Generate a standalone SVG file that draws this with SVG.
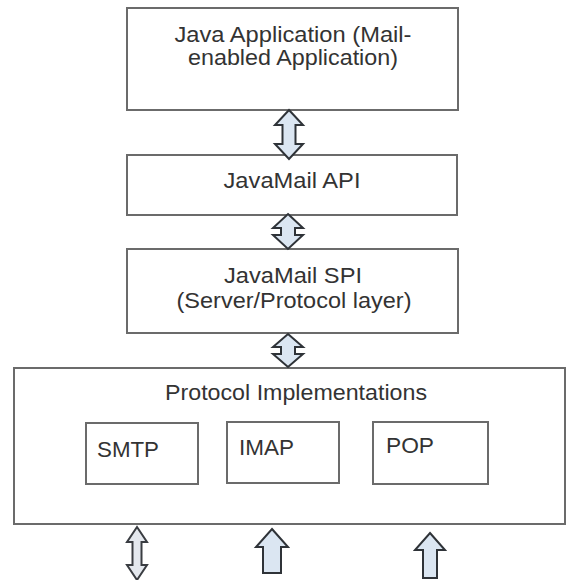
<svg xmlns="http://www.w3.org/2000/svg" width="567" height="580" viewBox="0 0 567 580">
<style>
.box{fill:#fff;stroke:#6b6b6b;stroke-width:2}
.t{font-family:"Liberation Sans",Arial,sans-serif;font-size:22px;fill:#333}
.c{text-anchor:middle}
.arr{fill:#dbe6f2;stroke:#2f3338;stroke-width:2;stroke-linejoin:miter}
.arr2{fill:#e4e8ee;stroke:#3a3d42;stroke-width:2;stroke-linejoin:miter}
</style>
<rect width="567" height="580" fill="#fff"/>
<g id="java-app">
<rect class="box" x="127" y="8" width="331" height="102"/>
<text class="t c" x="293" y="42" textLength="237" lengthAdjust="spacingAndGlyphs">Java Application (Mail-</text>
<text class="t c" x="293" y="65" textLength="210" lengthAdjust="spacingAndGlyphs">enabled Application)</text>
</g>
<g id="javamail-api">
<rect class="box" x="127" y="155" width="330" height="60"/>
<text class="t c" x="292" y="188" textLength="137" lengthAdjust="spacingAndGlyphs">JavaMail API</text>
</g>
<g id="javamail-spi">
<rect class="box" x="127" y="249" width="331" height="84"/>
<text class="t c" x="293" y="283" textLength="138" lengthAdjust="spacingAndGlyphs">JavaMail SPI</text>
<text class="t c" x="294" y="308" textLength="235" lengthAdjust="spacingAndGlyphs">(Server/Protocol layer)</text>
</g>
<g id="protocol-impl">
<rect class="box" x="14" y="368" width="551" height="156"/>
<text class="t c" x="296" y="400" textLength="262" lengthAdjust="spacingAndGlyphs">Protocol Implementations</text>
</g>
<g id="smtp">
<rect class="box" x="86" y="423" width="112" height="61"/>
<text class="t" x="97" y="457" textLength="62" lengthAdjust="spacingAndGlyphs">SMTP</text>
</g>
<g id="imap">
<rect class="box" x="227" y="422" width="112" height="61"/>
<text class="t" x="239" y="455" textLength="55" lengthAdjust="spacingAndGlyphs">IMAP</text>
</g>
<g id="pop">
<rect class="box" x="373" y="422" width="115" height="62"/>
<text class="t" x="386" y="453" textLength="48" lengthAdjust="spacingAndGlyphs">POP</text>
</g>
<g id="connectors">
<path class="arr" d="M289,110 L303,125 L295.5,125 L295.5,144 L303,144 L289,159 L275,144 L282.5,144 L282.5,125 L275,125 Z"/>
<path class="arr" d="M288,214 L303,228 L295,228 L295,235 L303,235 L288,249 L273,235 L281,235 L281,228 L273,228 Z"/>
<path class="arr" d="M288,334 L303,347 L295,347 L295,354 L303,354 L288,367 L273,354 L281,354 L281,347 L273,347 Z"/>
<path class="arr2" d="M137,527 L147,542 L141.5,542 L141.5,565 L147,565 L137,580 L127,565 L132.5,565 L132.5,542 L127,542 Z"/>
<path class="arr" d="M272,529 L288,547 L281,547 L281,573 L263,573 L263,547 L256,547 Z"/>
<path class="arr" d="M430,533 L445,550 L437,550 L437,578 L423,578 L423,550 L415,550 Z"/>
</g>
</svg>
